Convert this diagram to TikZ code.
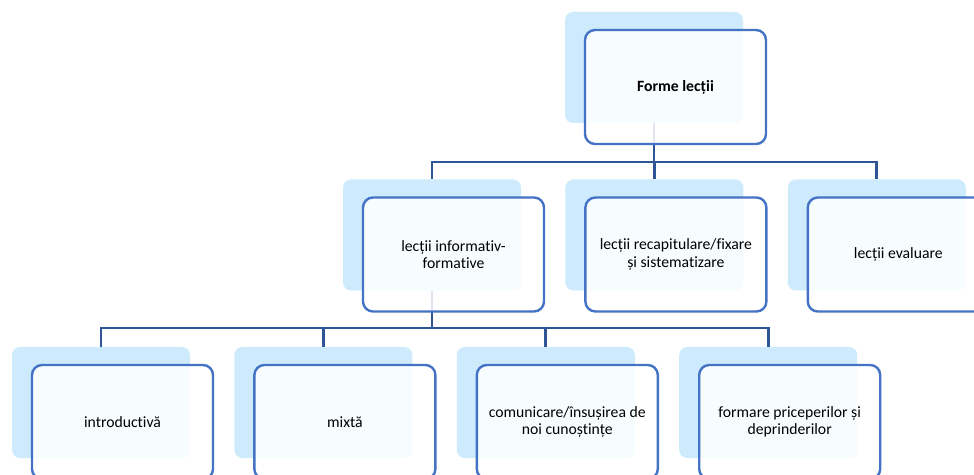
\documentclass[tikz,border=0pt]{standalone}
\usepackage{fontspec}
\setmainfont{Carlito}[Ligatures=NoCommon]
\usetikzlibrary{positioning}
\definecolor{backblue}{RGB}{205,235,252}
\definecolor{boxline}{RGB}{68,114,196}
\definecolor{linkblue}{RGB}{47,85,151}

\begin{document}
\begin{tikzpicture}[x=1pt, y=1pt, node distance=44pt]
    \tikzstyle{back}=[fill=backblue, rounded corners=8pt, minimum width=178pt, minimum height=111pt, inner sep=0pt];
    \tikzstyle{lesson}=[draw=boxline, line width=2.4pt, fill=white, fill opacity=.85, text opacity=1, rounded corners=10pt, minimum width=181pt, minimum height=114pt, align=center, font=\fontsize{15.7}{17.3}\selectfont, inner sep=0pt, anchor=north west];
    \tikzstyle{link}=[draw=linkblue, line width=2.8pt];
    \clip (0,0) rectangle (974,474);

    % back boxes
    \node[back] (formeback) at (654,406.5) {};
    \node[back] (informativback) at (432,239) {};
    \node[back, right=of informativback] (recapitulareback) {};
    \node[back, right=of recapitulareback] (evaluareback) {};
    \node[back] (introductivaback) at (101,71.5) {};
    \node[back, right=of introductivaback] (mixtaback) {};
    \node[back, right=of mixtaback] (comunicareback) {};
    \node[back, right=of comunicareback] (formareback) {};

    % connectors
    \coordinate (split1) at (654,312);
    \coordinate (split2) at (432,146);
    \path[link]
    (formeback.south) -- (split1)
    (split1) -| (informativback.north)
    (split1) -| (recapitulareback.north)
    (split1) -| (evaluareback.north)
    (informativback.south) -- (split2)
    (split2) -| (introductivaback.north)
    (split2) -| (mixtaback.north)
    (split2) -| (comunicareback.north)
    (split2) -| (formareback.north);

    % front boxes
    \node[lesson] (forme) at ([xshift=19pt, yshift=-17pt]formeback.north west) {\textbf{Forme lecții}};
    \node[lesson] (informativ) at ([xshift=19pt, yshift=-17pt]informativback.north west) {lecții informativ-\\formative};
    \node[lesson] (recapitulare) at ([xshift=19pt, yshift=-17pt]recapitulareback.north west) {lecții recapitulare/fixare\\și sistematizare};
    \node[lesson] (evaluare) at ([xshift=19pt, yshift=-17pt]evaluareback.north west) {lecții evaluare};
    \node[lesson] (introductiva) at ([xshift=19pt, yshift=-17pt]introductivaback.north west) {introductivă};
    \node[lesson] (mixta) at ([xshift=19pt, yshift=-17pt]mixtaback.north west) {mixtă};
    \node[lesson] (comunicare) at ([xshift=19pt, yshift=-17pt]comunicareback.north west) {comunicare/însușirea de\\noi cunoștințe};
    \node[lesson] (formare) at ([xshift=19pt, yshift=-17pt]formareback.north west) {formare priceperilor și\\deprinderilor};
\end{tikzpicture}
\end{document}
